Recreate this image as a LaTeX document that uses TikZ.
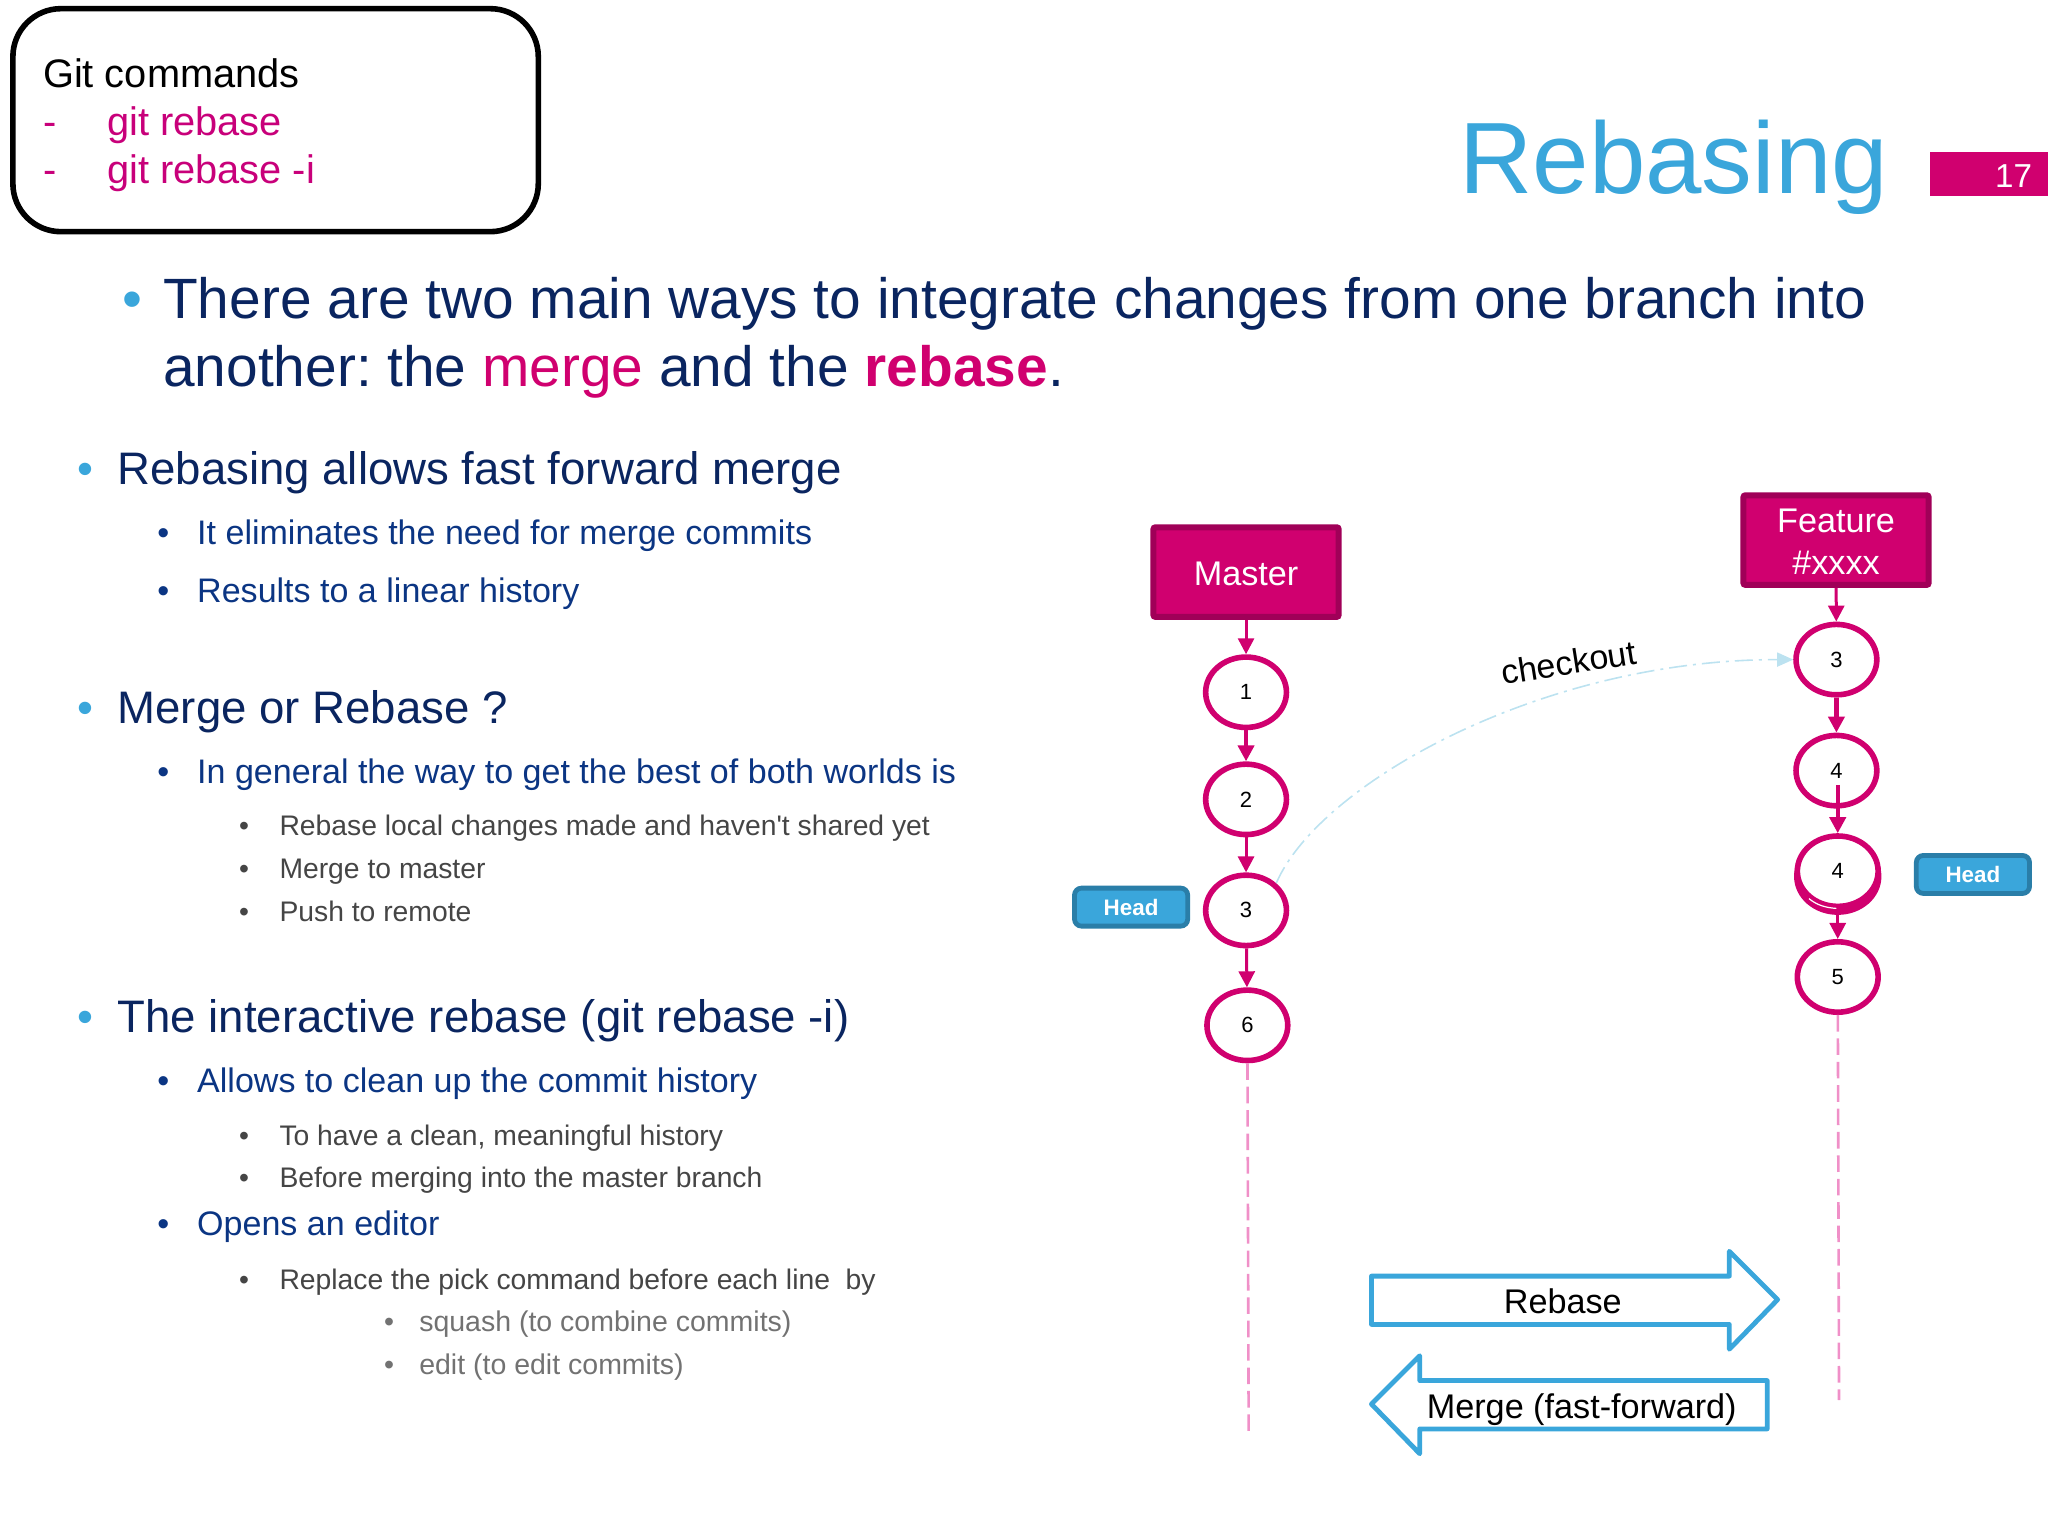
\documentclass[tikz,border=0pt]{standalone}
\usepackage{fontspec}
\setmainfont{Liberation Sans}
\newfontfamily\plainf{Liberation Sans}
\usetikzlibrary{shapes.geometric,arrows.meta}
\definecolor{mag}{HTML}{D0006F}
\definecolor{cmdmag}{HTML}{C8007A}
\definecolor{magdark}{HTML}{A00058}
\definecolor{sky}{HTML}{3AA6DB}
\definecolor{skydark}{HTML}{2A7EA8}
\definecolor{navy}{HTML}{0A2560}
\definecolor{midnavy}{HTML}{0B3583}
\definecolor{darkgray}{HTML}{454545}
\definecolor{lightgray}{HTML}{727272}
\definecolor{pinkdash}{HTML}{F090C8}
\definecolor{paleblue}{HTML}{BCE2F0}
\newcommand{\fs}[2]{\fontsize{#1}{#2}\selectfont}
\newcommand{\lowered}[1]{\raisebox{-1pt}[\height][\depth]{#1}}
\frenchspacing
\tikzset{
  txt/.style={anchor=base west,inner sep=0pt,outer sep=0pt},
  mainline/.style={txt,text=navy,font=\fs{28.42}{34}},
  levelone/.style={txt,text=navy,font=\fs{22.78}{27}},
  leveltwo/.style={txt,text=midnavy,font=\fs{17.02}{20}},
  levelthree/.style={txt,text=darkgray,font=\fs{14.15}{17}},
  levelfour/.style={txt,text=lightgray,font=\fs{14.25}{17}},
  cmd/.style={txt,font=\fs{19.9}{24}},
  branchbox/.style={rectangle,rounded corners=1pt,draw=magdark,fill=mag,line width=3pt,minimum width=92.6pt,minimum height=44.8pt,inner sep=0pt,text=white,align=center,font=\fs{17.1}{20.9}},
  commit/.style={ellipse,draw=mag,fill=white,line width=2.8pt,minimum width=40.4pt,minimum height=35.2pt,inner sep=0pt,font=\fs{11}{13}},
  headbox/.style={rectangle,rounded corners=3.5pt,draw=skydark,fill=sky,line width=2.4pt,minimum width=56.6pt,minimum height=19pt,inner sep=0pt,text=white,font=\bfseries\fs{11.2}{13}},
  link/.style={draw=mag,line width=1.5pt,-{Triangle[length=8pt,width=8pt,fill=mag]}},
  thicklink/.style={link,line width=2.2pt},
  life/.style={draw=pinkdash,line width=1.3pt,dash pattern=on 8.3pt off 3.4pt},
  bigarrow/.style={draw=sky,line width=2.4pt,line join=round,fill=white},
  bigtext/.style={inner sep=0pt,font=\fs{17.1}{20}},
}
\begin{document}
\begin{tikzpicture}[x=0.653061pt,y=-0.653061pt]
\useasboundingbox (0,0) rectangle (1568,1176);
% commands box
\node[rectangle,rounded corners=24pt,draw=black,line width=2.8pt,minimum width=262.7pt,minimum height=111.5pt,inner sep=0pt] (box) at (211,92) {};
\node[cmd] (c1) at (33,67) {Git commands};
\node[cmd,text=cmdmag] (c2) at (33,104) {-};
\node[cmd,text=cmdmag] (c3) at (82,104) {git rebase};
\node[cmd,text=cmdmag] (c4) at (33,140.3) {-};
\node[cmd,text=cmdmag] (c5) at (82,140.3) {git rebase -i};
% title
\node[txt,text=sky,font=\fs{50.7}{60}] (title) at (1117.5,148) {Rebasing};
\node[rectangle,fill=mag,minimum width=58.8pt,minimum height=22.2pt,inner sep=0pt] (tag) at (1523,133) {};
\node[txt,text=white,font=\fs{16.6}{19}] (num) at (1527.5,143.5) {17};
% main bullets
\node[mainline,text=sky] (b0) at (94,244) {•};
\node[mainline] (m1) at (125,244) {There are two main ways to integrate changes from one branch into};
\node[mainline] (m2) at (125,296) {another: the \textcolor{mag}{merge} and the \textcolor{mag}{\textbf{rebase}}.};
% first block
\node[levelone,text=sky] (b1) at (59,371) {•};
\node[levelone] (t1) at (90,371) {Rebasing allows fast forward merge};
\node[leveltwo] (b2) at (120.5,417) {•};
\node[leveltwo] (t2) at (151,417) {It eliminates the need for merge commits};
\node[leveltwo] (b3) at (120.5,461) {•};
\node[leveltwo] (t3) at (151,461) {Results to a linear history};
% second block
\node[levelone,text=sky] (b4) at (59,554) {•};
\node[levelone] (t4) at (90,554) {Merge or Rebase ?};
\node[leveltwo] (b5) at (120.5,600) {•};
\node[leveltwo] (t5) at (151,600) {In general the way to get the best of both worlds is};
\node[levelthree] (b6) at (183,640) {•};
\node[levelthree] (t6) at (214,640) {Rebase local changes made and haven{\plainf '}t shared yet};
\node[levelthree] (b7) at (183,672.5) {•};
\node[levelthree] (t7) at (214,672.5) {Merge to master};
\node[levelthree] (b8) at (183,705.5) {•};
\node[levelthree] (t8) at (214,705.5) {Push to remote};
% third block
\node[levelone,text=sky] (b9) at (59,790.5) {•};
\node[levelone] (t9) at (90,790.5) {The interactive rebase (git rebase -i)};
\node[leveltwo] (b10) at (120.5,836.5) {•};
\node[leveltwo] (t10) at (151,836.5) {Allows to clean up the commit history};
\node[levelthree] (b11) at (183,877) {•};
\node[levelthree] (t11) at (214,877) {To have a clean, meaningful history};
\node[levelthree] (b12) at (183,909) {•};
\node[levelthree] (t12) at (214,909) {Before merging into the master branch};
\node[leveltwo] (b13) at (120.5,946) {•};
\node[leveltwo] (t13) at (151,946) {Opens an editor};
\node[levelthree] (b14) at (183,987) {•};
\node[levelthree] (t14) at (214,987) {Replace the pick command before each line\ \ by};
\node[levelfour] (b15) at (294,1019.5) {•};
\node[levelfour] (t15) at (321,1019.5) {squash (to combine commits)};
\node[levelfour] (b16) at (294,1052) {•};
\node[levelfour] (t16) at (321,1052) {edit (to edit commits)};
% branches
\node[branchbox] (master) at (954,438) {\lowered{Master}};
\node[branchbox] (feature) at (1405.7,413.5) {\lowered{Feature}\\\lowered{\#xxxx}};
% master commits
\node[commit] (m-a) at (954,530) {1};
\node[commit] (m-b) at (954,612) {2};
\node[commit] (m-c) at (954,697) {3};
\node[commit] (m-d) at (955,785) {6};
% feature commits
\node[commit] (f-a) at (1406,505) {3};
\node[commit] (f-b) at (1406,590) {4};
\draw[mag,line width=3.2pt] (1407,671) ellipse (31 and 27);
\node[commit] (f-c) at (1407,667) {4};
\draw[white,line width=0.6pt] (1385,688) .. controls (1391,693) and (1398,695) .. (1406,695.5);
\node[commit] (f-d) at (1407,748) {5};
\coordinate (f-inner) at (1407,601);
\coordinate (m-end) at (956,1097);
\coordinate (f-end) at (1408,1072);
% heads
\node[headbox] (h1) at (866,694.5) {Head};
\node[headbox] (h2) at (1510.5,669.5) {Head};
% connectors
\draw[link] (master) -- (m-a);
\draw[thicklink] (m-a) -- (m-b);
\draw[link] (m-b) -- (m-c);
\draw[link] (m-c) -- (m-d);
\draw[link] (feature) -- (f-a);
\draw[thicklink] (f-a) -- (f-b);
\draw[thicklink] (f-inner) -- (f-c);
\draw[link] (f-c) -- (f-d);
\draw[life] (m-d) -- (m-end);
\draw[life] (f-d) -- (f-end);
\draw[paleblue,line width=0.8pt,dash pattern=on 9pt off 3pt on 1.5pt off 3pt,-{Triangle[length=8pt,width=7pt,fill=paleblue]}]
  (m-c.42) .. controls (1010,600) and (1180,505) .. (f-a.west);
\node[inner sep=0pt,rotate=9,font=\fs{17}{20}] (co) at (1201,507) {checkout};
% large arrows
\draw[bigarrow] (1050,977) -- (1324,977) -- (1324,958) -- (1361,995) -- (1324,1033) -- (1324,1014) -- (1050,1014) -- cycle;
\node[bigtext] (rb) at (1196.5,996) {Rebase};
\draw[bigarrow] (1353,1057) -- (1087,1057) -- (1087,1038) -- (1050,1075) -- (1087,1113) -- (1087,1094) -- (1353,1094) -- cycle;
\node[bigtext] (mg) at (1211,1079) {Merge (fast-forward)};
\end{tikzpicture}
\end{document}
